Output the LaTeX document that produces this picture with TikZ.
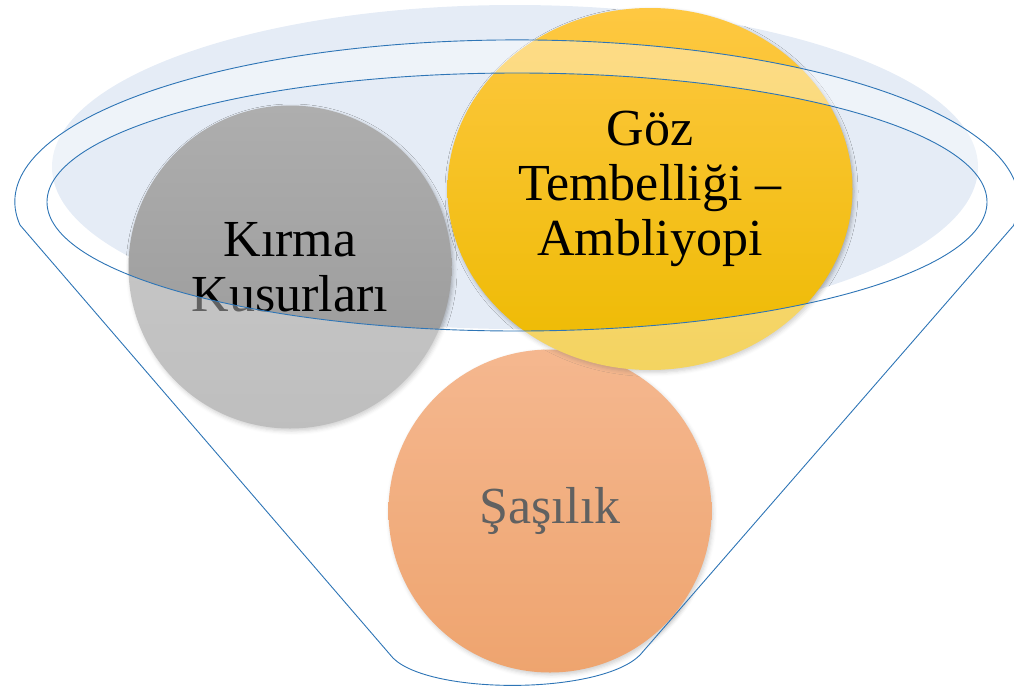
\documentclass[tikz,border=0pt]{standalone}
\usepackage{fontspec}
\setmainfont{Liberation Serif}
\usetikzlibrary{shapes.geometric,shadows.blur}
\definecolor{fnLine}  {HTML}{2E75B6}
\definecolor{fnGlass} {HTML}{E5ECF6}
\definecolor{grayTop} {HTML}{AEAEAE}
\definecolor{grayBot} {HTML}{979797}
\definecolor{goldTop} {HTML}{FEC842}
\definecolor{goldMid} {HTML}{FFC600}
\definecolor{goldBot} {HTML}{EDBA00}
\definecolor{peachTop}{HTML}{EF8C4B}
\definecolor{peachBot}{HTML}{E56D17}

\begin{document}
\begin{tikzpicture}[x=1pt,y=-1pt,
      bubble/.style={circle,inner sep=0pt,minimum size=323pt,align=center,
                     font=\fontsize{52}{55}\selectfont,
                     blur shadow={shadow xshift=1.5pt,shadow yshift=-2.5pt,
                                  shadow blur radius=4pt,shadow opacity=30}},
      rim/.style={draw=fnLine,line width=0.9pt}]

    \useasboundingbox (0,0) rectangle (1014,691);

    % glass top of the funnel
    \fill[fnGlass] (515,167) ellipse [x radius=463,y radius=162];

    \node[bubble,top color=grayTop,bottom color=grayBot] (kirma) at (290,267)
      {Kırma\\Kusurları};
    \node[bubble,top color=peachTop,bottom color=peachBot] (sasilik) at (550,511)
      {Şaşılık};
    \node[bubble,ellipse,minimum width=405pt,minimum height=362pt,
          top color=goldTop,middle color=goldMid,bottom color=goldBot] (goz) at (650,189)
      {Göz\\Tembelliği –\\Ambliyopi};

    % funnel body, veiled outside the inner ring
    \path[rim,fill=white,fill opacity=0.38,even odd rule]
      (1014,225) -- (640,655) .. controls (600,695) and (430,695) .. (393,658)
      -- (20,225) arc[start angle=171.8,end angle=368.2,x radius=502,y radius=162] -- cycle
      (517,202) ellipse [x radius=470,y radius=129];
  \end{tikzpicture}
\end{document}
